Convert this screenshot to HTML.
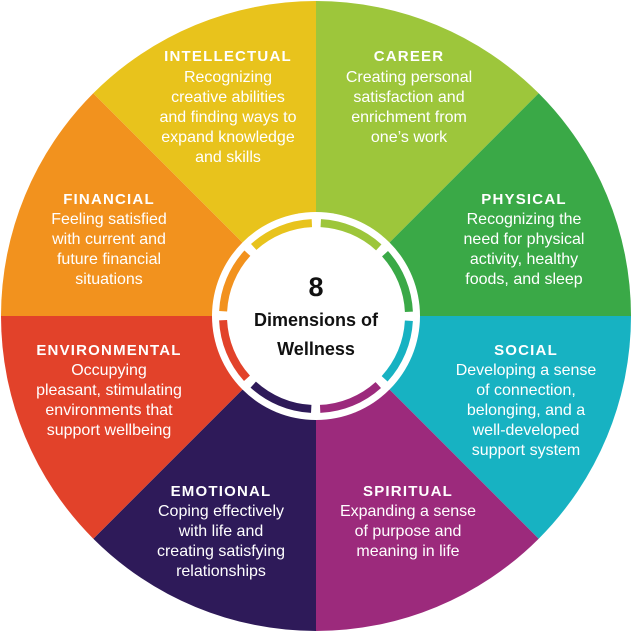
<!DOCTYPE html>
<html><head><meta charset="utf-8"><style>
html,body{margin:0;padding:0;background:#fff;width:631px;height:631px;overflow:hidden}
svg{display:block;overflow:hidden}
.t{font-family:"Liberation Sans",Arial,sans-serif;font-weight:bold;font-size:15px;letter-spacing:1.2px;fill:#fff;text-anchor:middle}
.b{font-family:"Liberation Sans",Arial,sans-serif;font-size:16px;fill:#fff;text-anchor:middle}
.c{font-family:"Liberation Sans",Arial,sans-serif;font-weight:bold;fill:#111;text-anchor:middle}
</style></head><body>
<svg width="631" height="631" viewBox="0 0 631 631" xmlns="http://www.w3.org/2000/svg">
<path d="M316,316 L316,1 A315,315 0 0 1 538.7,93.3 Z" fill="#9dc63b"/>
<path d="M316,316 L538.7,93.3 A315,315 0 0 1 631,316 Z" fill="#3aa947"/>
<path d="M316,316 L631,316 A315,315 0 0 1 538.7,538.7 Z" fill="#17b2c2"/>
<path d="M316,316 L538.7,538.7 A315,315 0 0 1 316,631 Z" fill="#9c2a7c"/>
<path d="M316,316 L316,631 A315,315 0 0 1 93.3,538.7 Z" fill="#2e1a59"/>
<path d="M316,316 L93.3,538.7 A315,315 0 0 1 1,316 Z" fill="#e2422a"/>
<path d="M316,316 L1,316 A315,315 0 0 1 93.3,93.3 Z" fill="#f2921e"/>
<path d="M316,316 L93.3,93.3 A315,315 0 0 1 316,1 Z" fill="#e8c31c"/>
<circle cx="316" cy="316" r="104" fill="#fff"/>
<g fill="none" stroke-width="8" stroke-dasharray="64 520">
<circle cx="316" cy="316" r="93" stroke="#9dc63b" transform="rotate(-87 316 316)"/>
<circle cx="316" cy="316" r="93" stroke="#3aa947" transform="rotate(-42 316 316)"/>
<circle cx="316" cy="316" r="93" stroke="#17b2c2" transform="rotate(3 316 316)"/>
<circle cx="316" cy="316" r="93" stroke="#9c2a7c" transform="rotate(48 316 316)"/>
<circle cx="316" cy="316" r="93" stroke="#2e1a59" transform="rotate(93 316 316)"/>
<circle cx="316" cy="316" r="93" stroke="#e2422a" transform="rotate(138 316 316)"/>
<circle cx="316" cy="316" r="93" stroke="#f2921e" transform="rotate(183 316 316)"/>
<circle cx="316" cy="316" r="93" stroke="#e8c31c" transform="rotate(228 316 316)"/>
</g>
<circle cx="316" cy="316" r="86" fill="#fff"/>
<text class="c" x="316" y="296" font-size="27">8</text>
<text class="c" x="316" y="326" font-size="18">Dimensions of</text>
<text class="c" x="316" y="355" font-size="18">Wellness</text>

<text class="t" x="228" y="61">INTELLECTUAL</text>
<text class="b" x="228" y="82">Recognizing</text>
<text class="b" x="228" y="102">creative abilities</text>
<text class="b" x="228" y="122">and finding ways to</text>
<text class="b" x="228" y="142">expand knowledge</text>
<text class="b" x="228" y="162">and skills</text>

<text class="t" x="409" y="61">CAREER</text>
<text class="b" x="409" y="82">Creating personal</text>
<text class="b" x="409" y="102">satisfaction and</text>
<text class="b" x="409" y="122">enrichment from</text>
<text class="b" x="409" y="142">one’s work</text>

<text class="t" x="109" y="204">FINANCIAL</text>
<text class="b" x="109" y="224">Feeling satisfied</text>
<text class="b" x="109" y="244">with current and</text>
<text class="b" x="109" y="264">future financial</text>
<text class="b" x="109" y="284">situations</text>

<text class="t" x="524" y="204">PHYSICAL</text>
<text class="b" x="524" y="224">Recognizing the</text>
<text class="b" x="524" y="244">need for physical</text>
<text class="b" x="524" y="264">activity, healthy</text>
<text class="b" x="524" y="284">foods, and sleep</text>

<text class="t" x="109" y="355">ENVIRONMENTAL</text>
<text class="b" x="109" y="375">Occupying</text>
<text class="b" x="109" y="395">pleasant, stimulating</text>
<text class="b" x="109" y="415">environments that</text>
<text class="b" x="109" y="435">support wellbeing</text>

<text class="t" x="526" y="355">SOCIAL</text>
<text class="b" x="526" y="375">Developing a sense</text>
<text class="b" x="526" y="395">of connection,</text>
<text class="b" x="526" y="415">belonging, and a</text>
<text class="b" x="526" y="435">well-developed</text>
<text class="b" x="526" y="455">support system</text>

<text class="t" x="221" y="496">EMOTIONAL</text>
<text class="b" x="221" y="516">Coping effectively</text>
<text class="b" x="221" y="536">with life and</text>
<text class="b" x="221" y="556">creating satisfying</text>
<text class="b" x="221" y="576">relationships</text>

<text class="t" x="408" y="496">SPIRITUAL</text>
<text class="b" x="408" y="516">Expanding a sense</text>
<text class="b" x="408" y="536">of purpose and</text>
<text class="b" x="408" y="556">meaning in life</text>
</svg>
</body></html>
